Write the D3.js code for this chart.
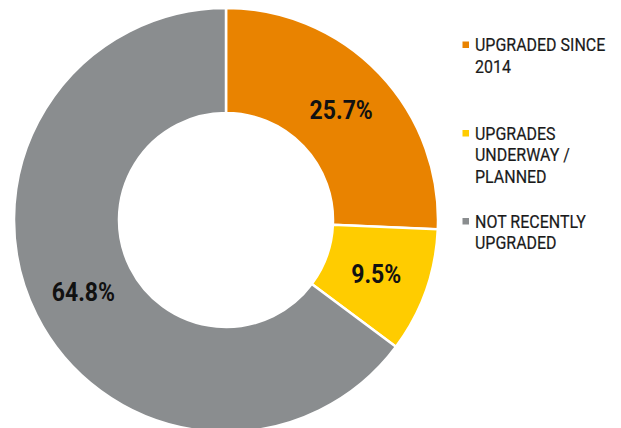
<!DOCTYPE html>
<html>
<head>
<meta charset="utf-8">
<script src="https://cdn.jsdelivr.net/npm/d3@7"></script>
<style>
  body { margin: 0; background: #fff; }
  svg { display: block; }
</style>
</head>
<body>
<div id="chart"></div>
<script>
const categories = ['UPGRADED SINCE 2014', 'UPGRADES UNDERWAY / PLANNED', 'NOT RECENTLY UPGRADED']
const values = [25.7, 9.5, 64.8]
const legendLines = [['UPGRADED SINCE', '2014'], ['UPGRADES', 'UNDERWAY /', 'PLANNED'], ['NOT RECENTLY', 'UPGRADED']]
const colors = ['#e98300', '#ffcc00', '#8a8d8f']

const width = 621
const height = 428
const cx = 226
const cy = 220
const outerR = 212
const innerR = 107

const svg = d3
  .select('#chart')
  .append('svg')
  .attr('width', width)
  .attr('height', height)
  .style('font-family', 'Roboto, sans-serif')

const pie = d3.pie().sort(null).value((d) => d.value)
const arc = d3.arc().innerRadius(innerR).outerRadius(outerR)
const data = pie(categories.map((c, i) => ({ name: c, value: values[i], color: colors[i] })))

const g = svg.append('g').attr('transform', `translate(${cx},${cy})`)

g.selectAll('path')
  .data(data)
  .join('path')
  .attr('d', arc)
  .attr('fill', (d) => d.data.color)
  .attr('stroke', '#fff')
  .attr('stroke-width', 2.5)

// percentage labels, squeezed to look like a condensed face
g.selectAll('text.pct')
  .data(data)
  .join('text')
  .attr('class', 'pct')
  .attr('transform', (d) => {
    const [x, y] = arc.centroid(d)
    return `translate(${x},${y + 9}) scale(0.92,1)`
  })
  .attr('text-anchor', 'middle')
  .attr('font-size', 25)
  .attr('font-weight', 700)
  .attr('fill', '#111')
  .text((d) => `${d.data.value}%`)

// legend
const legendTop = [51, 139.5, 227.5]
const lineH = 21.8

const legend = svg
  .selectAll('g.legend')
  .data(legendLines)
  .join('g')
  .attr('class', 'legend')
  .attr('transform', (d, i) => `translate(462,${legendTop[i]})`)

legend
  .append('rect')
  .attr('x', 0.5)
  .attr('y', -9.5)
  .attr('width', 6.5)
  .attr('height', 6.5)
  .attr('fill', (d, i) => colors[i])

legend
  .append('text')
  .attr('transform', 'translate(13,0) scale(0.855,1)')
  .attr('font-size', 18.7)
  .attr('fill', '#1a1a1a')
  .attr('stroke', '#1a1a1a')
  .attr('stroke-width', 0.2)
  .selectAll('tspan')
  .data((d) => d)
  .join('tspan')
  .attr('x', 0)
  .attr('y', (d, i) => i * lineH)
  .text((d) => d)
</script>
</body>
</html>
